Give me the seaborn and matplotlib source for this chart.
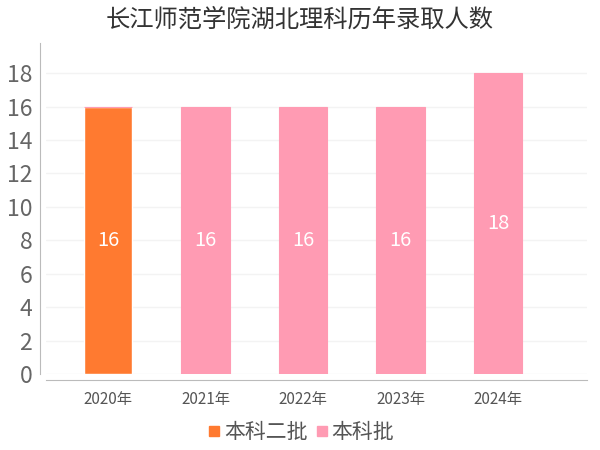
import pandas as pd
import numpy as np
from matplotlib import pyplot as plt
from matplotlib.lines import Line2D
import seaborn as sns

years = ['2020年', '2021年', '2022年', '2023年', '2024年']
batch2 = [16, 0, 0, 0, 0]      # 本科二批
batch = [0, 16, 16, 16, 18]    # 本科批
series_names = ['本科二批', '本科批']
colors = ['#ff7a30', '#ff9bb3']

sns.set_style('white')
plt.rcParams['font.family'] = ['Noto Sans CJK SC', 'DejaVu Sans']

df = pd.DataFrame({'year': years, 'b2': batch2, 'b': batch})

fig = plt.figure(figsize=(6, 4.5), dpi=100)
ax = fig.add_axes([0.0767, 0.169, 0.9013, 0.735])

sns.barplot(data=df, x='year', y='b2', color=colors[0], width=0.5,
            saturation=1, ax=ax, order=years)
sns.barplot(data=df, x='year', y='b', color=colors[1], width=0.5,
            saturation=1, ax=ax, order=years, bottom=df['b2'].values,
            edgecolor=colors[1], linewidth=0.8)

# 数值标签
for i, (v1, v2) in enumerate(zip(batch2, batch)):
    tot = v1 + v2
    ax.text(i, tot / 2, str(tot), ha='center', va='center',
            color='white', fontsize=14.5)

ax.set_xlim(-0.636, 4.91)
ax.set_ylim(0, 19.8)
ax.set_yticks(range(0, 19, 2))
ax.yaxis.grid(True, color='#f3f3f3', lw=1)
ax.set_axisbelow(True)
ax.set_xlabel('')
ax.set_ylabel('')

for s in ['top', 'right']:
    ax.spines[s].set_visible(False)
ax.spines['left'].set_position(('outward', 4))
ax.spines['bottom'].set_position(('outward', 4))
ax.spines['left'].set_color('#bbbbbb')
ax.spines['bottom'].set_color('#bbbbbb')
ax.spines['left'].set_bounds(0, 19.8)

ax.tick_params(axis='y', labelsize=16.5, colors='#666666', length=4,
               color='#bbbbbb', pad=2)
ax.tick_params(axis='x', labelsize=11, colors='#555555', length=4,
               color='#bbbbbb', pad=4)

fig.suptitle('长江师范学院湖北理科历年录取人数', fontsize=17.5, color='#333333',
             x=0.5, y=0.985, va='top')

handles = [Line2D([], [], marker='s', ls='', color=c, markersize=7)
           for c in colors]
fig.legend(handles, series_names, loc='center', bbox_to_anchor=(0.5, 0.04),
           ncol=2, frameon=False, fontsize=15, handletextpad=0.05,
           columnspacing=0.3, labelcolor='#555555', handlelength=0.8)

plt.savefig('out.png', dpi=100)
